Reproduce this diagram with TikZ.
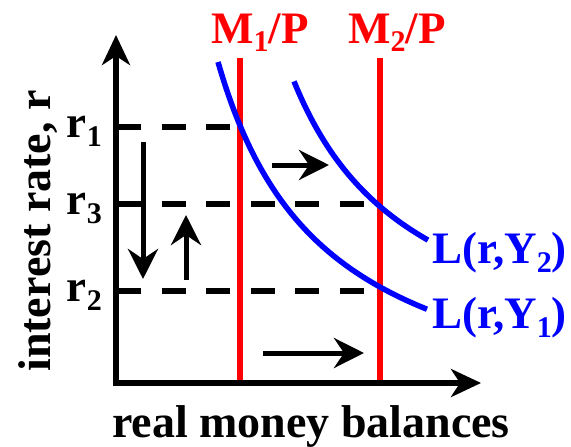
\documentclass[tikz,border=0pt]{standalone}
\usepackage{fontspec}
\setmainfont{Liberation Serif}
\usetikzlibrary{arrows.meta}
\newcommand{\sbs}[1]{\raisebox{-0.2em}{\fontsize{30}{30}\selectfont #1}}
\begin{document}
\begin{tikzpicture}[x=1pt,y=-1pt,
  lab/.style={font=\fontsize{45}{54}\selectfont\bfseries, inner sep=0pt},
  biglab/.style={font=\fontsize{46}{54}\selectfont\bfseries, inner sep=0pt},
  axis/.style={line width=5.5pt, line join=miter, {Stealth[length=30pt,width=28pt,inset=9pt]}-{Stealth[length=30pt,width=28pt,inset=9pt]}},
  guide/.style={line width=5.5pt, dash pattern=on 24pt off 20.5pt},
  supply/.style={red, line width=5.5pt},
  demand/.style={blue, line width=5.5pt},
  move/.style={line width=5pt, -{Stealth[length=30pt,width=30pt,inset=10pt]}},
]
\useasboundingbox (0,0) rectangle (571,447);

% axes
\coordinate (ytop) at (116,35);
\coordinate (O) at (116,383);
\coordinate (xend) at (481,383);

% guide lines
\coordinate (r1a) at (117,127); \coordinate (r1b) at (240,127);
\coordinate (r3a) at (117,204); \coordinate (r3b) at (380,204);
\coordinate (r2a) at (117,291); \coordinate (r2b) at (380,291);
\draw[guide] (r1a) -- (r1b);
\draw[guide] (r3a) -- (r3b);
\draw[guide] (r2a) -- (r2b);

% money supply lines
\coordinate (m1t) at (240,58); \coordinate (m1b) at (240,383);
\coordinate (m2t) at (380,58); \coordinate (m2b) at (380,383);
\draw[supply] (m1t) -- (m1b);
\draw[supply] (m2t) -- (m2b);

\draw[axis] (ytop) -- (O) -- (xend);

% money demand curves
\draw[demand] plot[domain=218:427, samples=80] (\x, {437 - 405/((\x-110)/100)});
\draw[demand] plot[domain=294:428, samples=80] (\x, {387 - 379/((\x-170)/100)});

% movement arrows
\coordinate (d1) at (143,142); \coordinate (d2) at (143,279);
\coordinate (u1) at (186,280); \coordinate (u2) at (186,215);
\coordinate (a1) at (272,165); \coordinate (a2) at (329,165);
\coordinate (b1) at (263,353); \coordinate (b2) at (364,353);
\draw[move] (d1) -- (d2);
\draw[move] (u1) -- (u2);
\draw[move] (a1) -- (a2);
\draw[move] (b1) -- (b2);

% labels
\node[lab, red, anchor=base] (M1) at (260,43) {M\sbs{1}/P};
\node[lab, red, anchor=base] (M2) at (397,43) {M\sbs{2}/P};
\node[lab, anchor=base east] (R1) at (102,137) {r\sbs{1}};
\node[lab, anchor=base east] (R3) at (102,214) {r\sbs{3}};
\node[lab, anchor=base east] (R2) at (102,301) {r\sbs{2}};
\node[lab, blue, anchor=base west] (L2) at (432,263) {L(r,Y\sbs{2})};
\node[lab, blue, anchor=base west] (L1) at (432,328) {L(r,Y\sbs{1})};
\node[biglab, rotate=90, anchor=base] (ylab) at (50,231) {interest rate, r};
\node[biglab, anchor=base] (xlab) at (311,437) {real money balances};
\end{tikzpicture}
\end{document}
